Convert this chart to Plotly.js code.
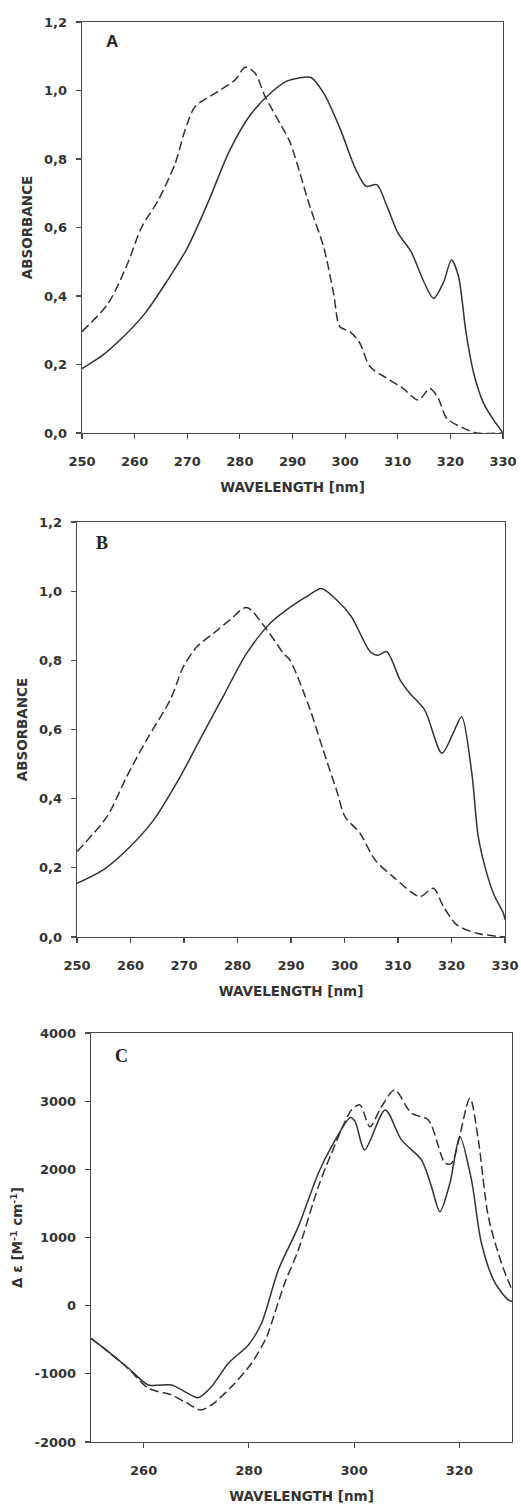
<!DOCTYPE html>
<html>
<head>
<meta charset="utf-8">
<script src="https://cdn.plot.ly/plotly-3.0.1.min.js"></script>
<style>html,body{margin:0;padding:0;background:#fff;}#chart{width:521px;height:1506px;}</style>
</head>
<body>
<div id="chart"></div>
<script>
// ---- Panel A ----
const aSolidX = [250,254,258,262,266,270,274,278,282,286,289,291,293.5,296,299,302,304,306,308,310,312.5,315,316.8,318.7,320.2,321.5,323,324.5,326.3,328.2,330];
const aSolidY = [0.188,0.228,0.283,0.35,0.44,0.54,0.675,0.823,0.929,0.995,1.028,1.036,1.038,0.99,0.89,0.77,0.72,0.725,0.66,0.585,0.53,0.44,0.393,0.44,0.505,0.46,0.29,0.17,0.087,0.038,0.0];
const aDashX = [250,255,258.8,261.3,264.5,267.7,269.6,271.5,275.3,279.1,281,282.9,284.8,288,289.5,291,293.3,295.9,297.8,299,300.9,302.8,304.7,307.9,311,313.9,316.1,317.7,319.3,322.5,325,330];
const aDashY = [0.296,0.379,0.5,0.6,0.68,0.787,0.885,0.953,0.992,1.031,1.068,1.05,0.982,0.894,0.85,0.78,0.661,0.544,0.408,0.31,0.296,0.262,0.194,0.16,0.13,0.096,0.13,0.101,0.043,0.014,0.0,0.0];
// ---- Panel B ----
const bSolidX = [250,254.9,259.9,264.3,269.3,273.6,277.3,281.7,286.1,289.8,292.9,295.7,298.5,301.3,304.8,306.3,307.9,310.4,312.2,315,318.2,320.3,321.9,323.8,325,326.6,328,329.7,330];
const bSolidY = [0.155,0.194,0.261,0.338,0.464,0.589,0.695,0.82,0.907,0.953,0.984,1.008,0.975,0.926,0.825,0.815,0.825,0.743,0.705,0.656,0.531,0.589,0.637,0.473,0.29,0.184,0.12,0.069,0.05];
const bDashX = [250,255.6,259.3,263,267.4,269.9,272.4,275.5,278.6,281.7,285.5,288.6,289.8,293.6,296,298.5,300.1,302.9,305.7,309.1,314.1,316.6,318.5,321,324.7,330];
const bDashY = [0.247,0.348,0.464,0.57,0.685,0.782,0.839,0.878,0.917,0.953,0.888,0.82,0.801,0.656,0.541,0.425,0.348,0.3,0.223,0.174,0.117,0.141,0.088,0.035,0.011,0.0];
// ---- Panel C ----
const cSolidX = [250,253.3,257.1,260.9,265.3,267.8,270.4,272.9,276.1,279.9,282.4,285.6,289.4,293.2,295.7,299.3,300.2,302,305.9,309,312.8,314.7,316.3,318.2,320.1,322.3,324.2,326.8,329.3,330];
const cSolidY = [-480,-675,-918,-1163,-1163,-1261,-1350,-1188,-845,-576,-258,524,1159,1942,2332,2760,2699,2284,2871,2431,2137,1746,1379,1796,2479,1844,915,329,84,60];
const cDashX = [250,253.3,257.1,260.9,265.3,268,270.8,272.9,276.7,280.5,283.4,284.3,286.8,289.4,293.2,295.7,299.5,301.1,303,305.2,307.7,310.9,314.1,317.3,318.5,322,323.6,325.5,328,330];
const cDashY = [-480,-680,-925,-1212,-1310,-1420,-1530,-1457,-1188,-845,-455,-258,329,817,1746,2235,2871,2944,2626,2919,3164,2822,2724,2089,2089,3042,2431,1305,622,230];

// ---- tick labels ----
const absTickVals = [0,0.2,0.4,0.6,0.8,1.0,1.2];
const absTickText = ['0,0','0,2','0,4','0,6','0,8','1,0','1,2'];
const wlTickVals = [250,260,270,280,290,300,310,320,330];
const wlTickText = ['250','260','270','280','290','300','310','320','330'];
const cdTickVals = [-2000,-1000,0,1000,2000,3000,4000];
const cdTickText = ['-2000','-1000','0','1000','2000','3000','4000'];
const cWlTickVals = [260,280,300,320];
const cWlTickText = ['260','280','300','320'];

const LINE = '#333333';
const AX = '#4a4a4a';
const tickFont = {family:'DejaVu Sans', size:13, color:'#333', weight:'bold'};
const titleFont = {family:'DejaVu Sans', size:13.5, color:'#333', weight:'bold'};

function tr(x,y,dash,xa,ya){
  return {x:x,y:y,type:'scatter',mode:'lines',xaxis:xa,yaxis:ya,
    line:{color:LINE,width:1.5,dash:dash?'9px,4px':'solid',shape:'spline',smoothing:0.8},
    hoverinfo:'skip',showlegend:false};
}
const data = [
  tr(aSolidX,aSolidY,false,'x','y'), tr(aDashX,aDashY,true,'x','y'),
  tr(bSolidX,bSolidY,false,'x2','y2'), tr(bDashX,bDashY,true,'x2','y2'),
  tr(cSolidX,cSolidY,false,'x3','y3'), tr(cDashX,cDashY,true,'x3','y3')
];

function xax(domain, anchor, tv, tt, title){
  return {domain:domain, anchor:anchor, range:[250,330], tickvals:tv, ticktext:tt,
    ticks:'outside', ticklen:5, tickwidth:1.2, tickcolor:AX, showline:true, mirror:true,
    linecolor:AX, linewidth:1.3, showgrid:false, zeroline:false, tickfont:tickFont,
    ticklabelstandoff:11,
    title:{text:title, font:titleFont, standoff:14}, automargin:false, fixedrange:true};
}
function yax(domain, anchor, range, tv, tt, title, standoff){
  return {domain:domain, anchor:anchor, range:range, tickvals:tv, ticktext:tt,
    ticks:'outside', ticklen:5, tickwidth:1.2, tickcolor:AX, showline:true, mirror:true,
    linecolor:AX, linewidth:1.3, showgrid:false, zeroline:false, tickfont:tickFont,
    ticklabelstandoff:6,
    title:{text:title, font:titleFont, standoff:standoff}, automargin:false, fixedrange:true};
}

const layout = {
  width:521, height:1506,
  margin:{l:0,r:0,t:0,b:0},
  paper_bgcolor:'#fff', plot_bgcolor:'#fff',
  separators:',.',
  xaxis: xax([0.1574,0.9655],'y',wlTickVals,wlTickText,'WAVELENGTH [nm]'),
  yaxis: yax([0.7125,0.9854],'x',[0,1.2],absTickVals,absTickText,'ABSORBANCE',8),
  xaxis2: xax([0.1478,0.9693],'y2',wlTickVals,wlTickText,'WAVELENGTH [nm]'),
  yaxis2: yax([0.3778,0.6534],'x2',[0,1.2],absTickVals,absTickText,'ABSORBANCE',8),
  xaxis3: xax([0.1747,0.9827],'y3',cWlTickVals,cWlTickText,'WAVELENGTH [nm]'),
  yaxis3: yax([0.0425,0.3141],'x3',[-2000,4000],cdTickVals,cdTickText,'Δ ε [M<sup>-1</sup> cm<sup>-1</sup>]',8),
  annotations:[
    {text:'A', xref:'paper', yref:'paper', x:112/521, y:1-42/1506, showarrow:false,
     font:{family:'Liberation Sans', size:17, color:'#222', weight:'bold'}, xanchor:'center', yanchor:'middle'},
    {text:'B', xref:'paper', yref:'paper', x:102/521, y:1-543/1506, showarrow:false,
     font:{family:'Liberation Serif', size:18, color:'#222', weight:'bold'}, xanchor:'center', yanchor:'middle'},
    {text:'C', xref:'paper', yref:'paper', x:121/521, y:1-1056/1506, showarrow:false,
     font:{family:'Liberation Serif', size:18, color:'#222', weight:'bold'}, xanchor:'center', yanchor:'middle'}
  ]
};

Plotly.newPlot('chart', data, layout, {staticPlot:true, displayModeBar:false});
</script>
</body>
</html>
